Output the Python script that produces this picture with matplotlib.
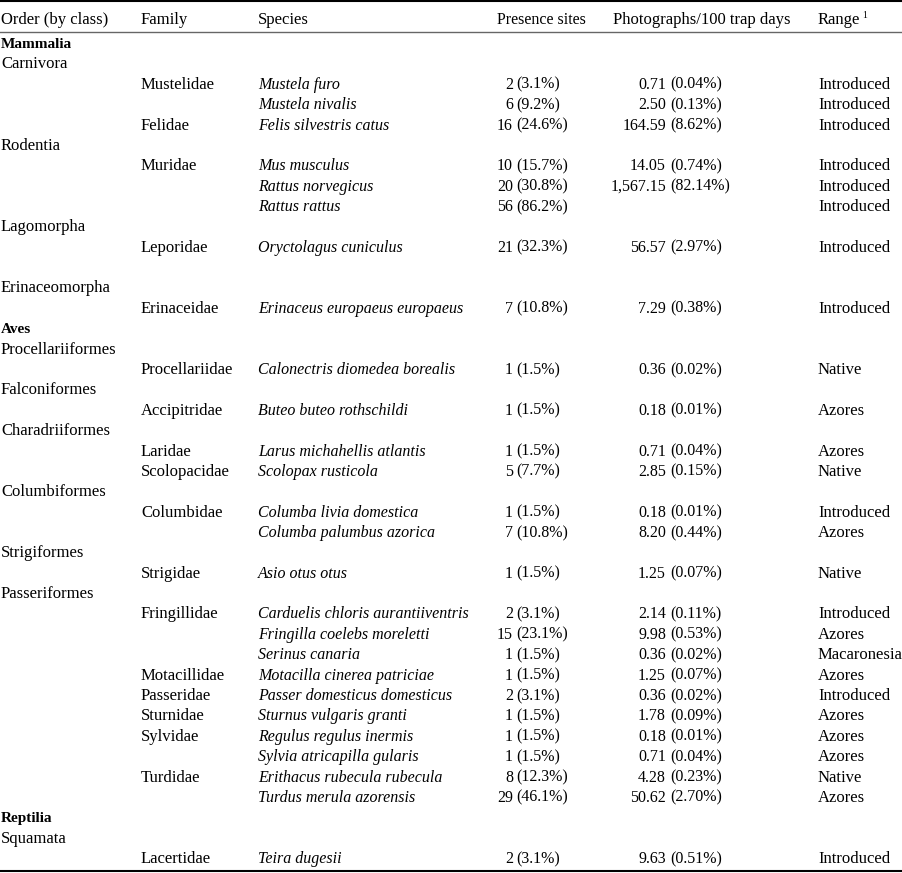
import matplotlib
matplotlib.use("Agg")
import matplotlib.pyplot as plt

plt.rcParams["font.family"] = "Liberation Serif"

# Datos de la tabla
headers = ["Order (by class)", "Family", "Species", "Presence sites",
           "Photographs/100 trap days", "Range"]

orders = ["Mammalia", "Carnivora", "", "", "", "Rodentia", "", "", "", "Lagomorpha",
          "", "", "Erinaceomorpha", "", "Aves", "Procellariiformes", "", "Falconiformes", "",
          "Charadriiformes", "", "", "Columbiformes", "", "", "Strigiformes", "",
          "Passeriformes", "", "", "", "", "", "", "", "", "", "", "Reptilia", "Squamata", ""]
bold_rows = [0, 14, 38]

families = ["", "", "Mustelidae", "", "Felidae", "", "Muridae", "", "", "",
            "Leporidae", "", "", "Erinaceidae", "", "", "Procellariidae", "", "Accipitridae", "",
            "Laridae", "Scolopacidae", "", "Columbidae", "", "", "Strigidae", "",
            "Fringillidae", "", "", "Motacillidae", "Passeridae", "Sturnidae", "Sylvidae", "",
            "Turdidae", "", "", "", "Lacertidae"]

species = ["", "", "Mustela furo", "Mustela nivalis", "Felis silvestris catus", "",
           "Mus musculus", "Rattus norvegicus", "Rattus rattus", "", "Oryctolagus cuniculus",
           "", "", "Erinaceus europaeus europaeus", "", "", "Calonectris diomedea borealis", "",
           "Buteo buteo rothschildi", "", "Larus michahellis atlantis", "Scolopax rusticola", "",
           "Columba livia domestica", "Columba palumbus azorica", "", "Asio otus otus", "",
           "Carduelis chloris aurantiiventris", "Fringilla coelebs moreletti", "Serinus canaria",
           "Motacilla cinerea patriciae", "Passer domesticus domesticus", "Sturnus vulgaris granti",
           "Regulus regulus inermis", "Sylvia atricapilla gularis", "Erithacus rubecula rubecula",
           "Turdus merula azorensis", "", "", "Teira dugesii"]

presence_n = ["", "", "2", "6", "16", "", "10", "20", "56", "", "21", "", "", "7", "", "",
              "1", "", "1", "", "1", "5", "", "1", "7", "", "1", "", "2", "15", "1", "1", "2",
              "1", "1", "1", "8", "29", "", "", "2"]
presence_pct = ["", "", "(3.1%)", "(9.2%)", "(24.6%)", "", "(15.7%)", "(30.8%)", "(86.2%)", "",
                "(32.3%)", "", "", "(10.8%)", "", "", "(1.5%)", "", "(1.5%)", "", "(1.5%)",
                "(7.7%)", "", "(1.5%)", "(10.8%)", "", "(1.5%)", "", "(3.1%)", "(23.1%)",
                "(1.5%)", "(1.5%)", "(3.1%)", "(1.5%)", "(1.5%)", "(1.5%)", "(12.3%)", "(46.1%)",
                "", "", "(3.1%)"]

photos_n = ["", "", "0.71", "2.50", "164.59", "", "14.05", "1,567.15", "", "", "56.57", "", "",
            "7.29", "", "", "0.36", "", "0.18", "", "0.71", "2.85", "", "0.18", "8.20", "",
            "1.25", "", "2.14", "9.98", "0.36", "1.25", "0.36", "1.78", "0.18", "0.71", "4.28",
            "50.62", "", "", "9.63"]
photos_pct = ["", "", "(0.04%)", "(0.13%)", "(8.62%)", "", "(0.74%)", "(82.14%)", "", "",
              "(2.97%)", "", "", "(0.38%)", "", "", "(0.02%)", "", "(0.01%)", "", "(0.04%)",
              "(0.15%)", "", "(0.01%)", "(0.44%)", "", "(0.07%)", "", "(0.11%)", "(0.53%)",
              "(0.02%)", "(0.07%)", "(0.02%)", "(0.09%)", "(0.01%)", "(0.04%)", "(0.23%)",
              "(2.70%)", "", "", "(0.51%)"]

ranges = ["", "", "Introduced", "Introduced", "Introduced", "", "Introduced", "Introduced",
          "Introduced", "", "Introduced", "", "", "Introduced", "", "", "Native", "", "Azores", "",
          "Azores", "Native", "", "Introduced", "Azores", "", "Native", "", "Introduced",
          "Azores", "Macaronesia", "Azores", "Introduced", "Azores", "Azores", "Azores", "Native",
          "Azores", "", "", "Introduced"]

# Figura en pixeles
fig = plt.figure(figsize=(9.02, 8.73), dpi=100)
ax = fig.add_axes([0, 0, 1, 1])
ax.set_xlim(0, 902)
ax.set_ylim(873, 0)
ax.axis("off")

fs_txt = 12      # texto normal
fs_it = 11.5     # especies
fs_num = 11.5    # numeros
fs_bold = 11     # clases
x_cols = [1, 141, 258, 497, 613, 818]

# Cabecera
for x, h in zip(x_cols, headers):
    ax.text(x, 24, h, fontsize=fs_txt if h != "Presence sites" else fs_num,
            ha="left", va="baseline")
ax.text(862, 18, "1", fontsize=7, ha="left", va="baseline")

# Lineas
ax.plot([0, 902], [1, 1], color="black", linewidth=1.5)
ax.plot([0, 902], [31.5, 31.5], color="#666666", linewidth=1.0)
ax.plot([0, 902], [870.5, 870.5], color="black", linewidth=1.5)

# Filas
y0, dy = 43, 20.375
for i in range(len(orders)):
    yb = y0 + i * dy + 5
    if i in bold_rows:
        ax.text(x_cols[0], yb, orders[i], fontsize=fs_bold, va="baseline", fontweight="bold")
    else:
        ax.text(x_cols[0], yb, orders[i], fontsize=fs_txt, va="baseline")
    ax.text(x_cols[1], yb, families[i], fontsize=fs_txt, va="baseline")
    ax.text(x_cols[2], yb, species[i], fontsize=fs_it, va="baseline", style="italic")
    ax.text(513, yb, presence_n[i], fontsize=fs_num, va="baseline", ha="right")
    ax.text(516, yb, presence_pct[i], fontsize=fs_num, va="baseline", ha="left")
    ax.text(666, yb, photos_n[i], fontsize=fs_num, va="baseline", ha="right")
    ax.text(670, yb, photos_pct[i], fontsize=fs_num, va="baseline", ha="left")
    ax.text(x_cols[5], yb, ranges[i], fontsize=fs_txt, va="baseline")

plt.savefig("out.png", dpi=100)
